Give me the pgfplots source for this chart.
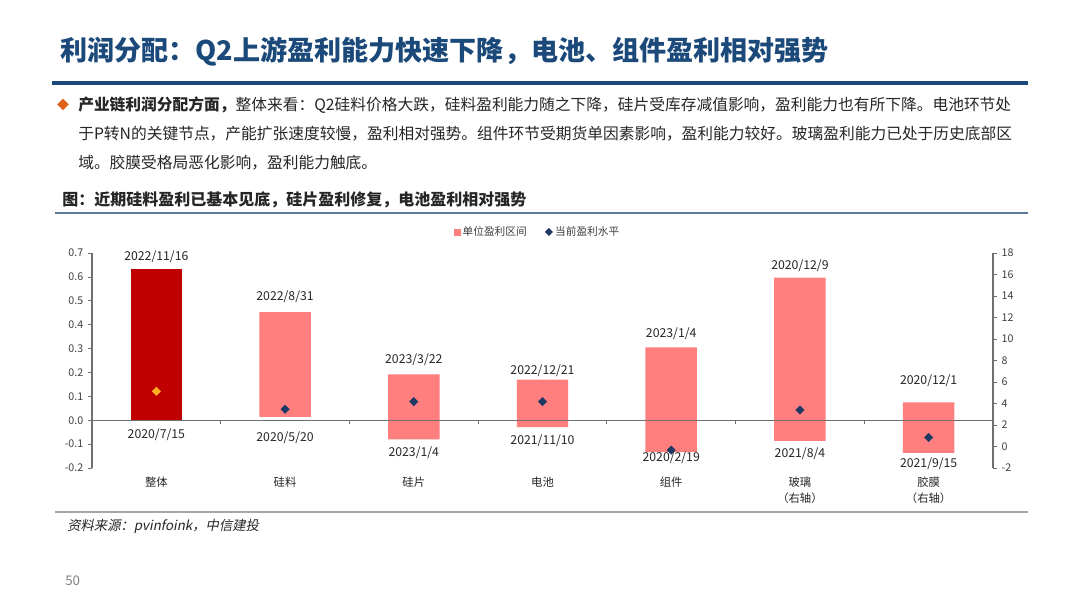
\documentclass[border=0pt]{standalone}
\usepackage{fontspec}
\setmainfont{Noto Sans CJK SC}
\newfontfamily\slantfont[FakeSlant=0.2]{Noto Sans CJK SC}
\usepackage{pgfplots}
\usepackage{pgfplotstable}
\pgfplotsset{compat=1.18}

\definecolor{titleblue}{HTML}{1B4A7A}
\definecolor{salmon}{HTML}{FF7F7F}
\definecolor{darkred}{HTML}{C00000}
\definecolor{navy}{HTML}{1F3864}
\definecolor{orangept}{HTML}{FFB020}
\definecolor{bulletorange}{HTML}{E0601A}
\definecolor{txt}{HTML}{262626}
\definecolor{ticktxt}{HTML}{404040}
\definecolor{axisgray}{HTML}{707070}
\definecolor{capline}{HTML}{5A7A95}
\definecolor{footline}{HTML}{A0A8B0}

% left scale: range low, range high, current level
\pgfplotstableread{
x lo hi cur
1 0.014 0.453 0.046
2 -0.080 0.192 0.078
3 -0.029 0.170 0.078
4 -0.133 0.305 -0.125
}\leftbars

% right scale (glass, film)
\pgfplotstableread{
x lo hi cur
5 0.53 15.7 3.4
6 -0.60 4.10 0.84
}\rightbars

\pgfplotstableread{
x y lab
0 0.683 2022/11/16
0 -0.059 2020/7/15
1 0.516 2022/8/31
1 -0.074 2020/5/20
2 0.255 2023/3/22
2 -0.137 2023/1/4
3 0.209 2022/12/21
3 -0.084 2021/11/10
4 0.361 2023/1/4
4 -0.159 2020/2/19
}\leftlabels

\pgfplotstableread{
x y lab
5 16.8 2020/12/9
5 -0.65 2021/8/4
6 6.1 2020/12/1
6 -1.58 2021/9/15
}\rightlabels

\pgfplotsset{
  frame/.style={
    at={(69pt,105pt)}, anchor=south west,
    scale only axis, width=675.75pt, height=161.25pt,
    xmin=-0.5, xmax=6.5, clip=false,
    /pgf/number format/assume math mode=true,
    tick label style={font=\fontsize{8}{9}\selectfont, text=ticktxt},
    axis line style={draw=axisgray, line width=0.8pt},
    tick style={draw=axisgray, line width=0.6pt},
    major tick length=3pt,
  },
  lefty/.style={ymin=-0.2, ymax=0.7},
  righty/.style={ymin=-2, ymax=18},
  dmd/.style={only marks, mark=square*, mark size=2.2pt, mark options={rotate=45}},
  datelab/.style={draw=none, mark=none, nodes near coords, point meta=explicit symbolic,
    nodes near coords style={anchor=center, font=\fontsize{9.2}{10}\selectfont, text=txt}},
}

\begin{document}
\begin{tikzpicture}
\path[use as bounding box, fill=white] (0,0) rectangle (810pt,456pt);

% slide header
\node[anchor=west, font=\fontsize{20.3}{22}\selectfont\bfseries, text=titleblue, inner sep=0pt] at (45pt,417pt)
  {利润分配：Q2上游盈利能力快速下降，电池、组件盈利相对强势};
\draw[titleblue, line width=3pt] (39pt,393.75pt) -- (771pt,393.75pt);

\node[anchor=center, font=\fontsize{9}{10}\selectfont, text=bulletorange, inner sep=0pt] at (47.25pt,377.25pt) {◆};
\begin{scope}[every node/.style={anchor=west, inner sep=0pt, font=\fontsize{11.8}{13}\selectfont, text=txt}]
\node at (58.5pt,377.25pt) {{\bfseries 产业链利润分配方面，}整体来看：Q2硅料价格大跌，硅料盈利能力随之下降，硅片受库存减值影响，盈利能力也有所下降。电池环节处};
\node at (58.5pt,355.5pt) {于P转N的关键节点，产能扩张速度较慢，盈利相对强势。组件环节受期货单因素影响，盈利能力较好。玻璃盈利能力已处于历史底部区};
\node at (58.5pt,333.75pt) {域。胶膜受格局恶化影响，盈利能力触底。};
\end{scope}

\node[anchor=west, inner sep=0pt, font=\fontsize{12}{13}\selectfont\bfseries, text=txt] at (46.5pt,306pt)
  {图：近期硅料盈利已基本见底，硅片盈利修复，电池盈利相对强势};
\draw[capline, line width=1.2pt] (41.25pt,296.25pt) -- (771pt,296.25pt);

% right-axis bars (drawn first so the zero line lies over them)
\begin{axis}[frame, righty, hide axis, ybar stacked, stack negative=on previous, bar width=0.4]
\addplot[draw=none, fill=none] table[x=x, y=lo]{\rightbars};
\addplot[draw=none, fill=salmon] table[x=x, y expr=\thisrow{hi}-\thisrow{lo}]{\rightbars};
\end{axis}

% left-axis bars, left axis and zero line
\begin{axis}[frame, lefty, ybar stacked, stack negative=on previous, bar width=0.4, axis on top,
  axis y line*=left, axis x line*=middle,
  xtick={0.5,1.5,...,5.5}, xticklabels={,,,,,}, tick align=outside,
  ytick={-0.2,-0.1,0,0.1,0.2,0.3,0.4,0.5,0.6,0.7},
  yticklabel style={/pgf/number format/.cd, fixed, fixed zerofill, precision=1},
]
\addplot[draw=none, fill=none] table[x=x, y=lo]{\leftbars};
\addplot[draw=none, fill=salmon] table[x=x, y expr=\thisrow{hi}-\thisrow{lo}]{\leftbars};
\end{axis}

% overall bar, markers, date labels, categories, legend
\begin{axis}[frame, lefty, axis y line=none, axis x line*=bottom,
  x axis line style={draw=none}, major tick length=0pt,
  xtick={0,...,6},
  xticklabels={整体,硅料,硅片,电池,组件,玻璃\\（右轴）,胶膜\\（右轴）},
  xticklabel style={align=center, font=\fontsize{8.5}{12}\selectfont, text=txt, yshift=-3pt},
  legend style={at={(0.495,1.098)}, anchor=center, draw=none, fill=none,
    legend columns=2, font=\fontsize{8}{9}\selectfont, text=ticktxt,
    /tikz/every even column/.append style={column sep=12pt}},
]
\addplot[ybar, bar width=0.4, bar shift=0pt, draw=none, fill=darkred, forget plot] coordinates {(0,0.635)};
\addplot[dmd, color=orangept, forget plot] coordinates {(0,0.121)};
\addplot[dmd, color=navy, forget plot] table[x=x, y=cur]{\leftbars};
\addplot[datelab, forget plot] table[x=x, y=y, meta=lab]{\leftlabels};
\addlegendimage{only marks, mark=square*, mark size=2.2pt, color=salmon}
\addlegendentry{单位盈利区间}
\addlegendimage{only marks, mark=square*, mark size=1.9pt, mark options={rotate=45}, color=navy}
\addlegendentry{当前盈利水平}
\end{axis}

% right axis, markers and labels
\begin{axis}[frame, righty, axis x line=none, axis y line*=right,
  ytick={-2,0,...,18}, tick align=outside]
\addplot[dmd, color=navy] table[x=x, y=cur]{\rightbars};
\addplot[datelab] table[x=x, y=y, meta=lab]{\rightlabels};
\end{axis}

% footer
\draw[footline, line width=1.5pt] (41.25pt,72pt) -- (771pt,72pt);
\node[anchor=west, inner sep=0pt, font=\fontsize{10}{11}\selectfont\slantfont, text=txt] at (50.25pt,61.5pt)
  {资料来源：pvinfoink，中信建投};
\node[anchor=west, inner sep=0pt, font=\fontsize{10}{11}\selectfont, text=gray] at (48.75pt,20.25pt) {50};
\end{tikzpicture}
\end{document}
